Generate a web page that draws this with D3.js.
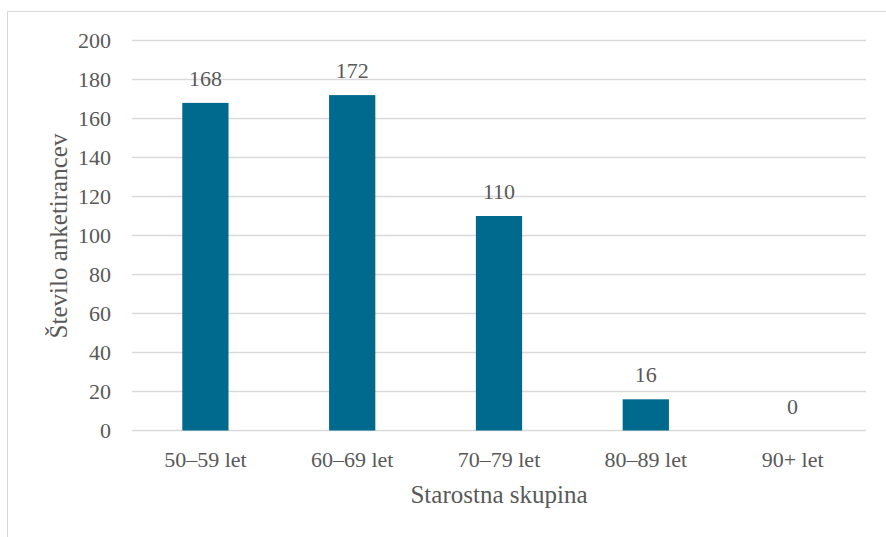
<!DOCTYPE html>
<html>
<head>
<meta charset="utf-8">
<script src="https://cdn.jsdelivr.net/npm/d3@7"></script>
<style>
  html, body { margin: 0; padding: 0; background: #fff; }
  svg { display: block; }
</style>
</head>
<body>
<svg id="chart" width="886" height="537"></svg>
<script>
// Age groups and number of respondents
const categories = ["50–59 let", "60–69 let", "70–79 let", "80–89 let", "90+ let"];
const values = [168, 172, 110, 16, 0];
const yTicks = [0, 20, 40, 60, 80, 100, 120, 140, 160, 180, 200];
const xTitle = "Starostna skupina";
const yTitle = "Število anketirancev";

const FONT = '"Liberation Serif"';
const TEXT_COLOR = "#595959";

const svg = d3.select("#chart");
const W = 886, H = 537;
const margin = { left: 132, right: 20, top: 40.5, bottom: 106.5 };
const plotW = W - margin.left - margin.right;
const plotH = H - margin.top - margin.bottom;

// chart frame
svg.append("rect")
  .attr("x", 7.5).attr("y", 11.5)
  .attr("width", W + 10).attr("height", H + 10)
  .attr("fill", "#fff").attr("stroke", "#d9d9d9").attr("stroke-width", 1);

const g = svg.append("g").attr("transform", `translate(${margin.left},${margin.top})`);

const x = d3.scaleBand().domain(categories).range([0, plotW]).paddingInner(0.685).paddingOuter(0.3425);
const y = d3.scaleLinear().domain([0, 200]).range([plotH, 0]);

// gridlines
g.append("g").selectAll("line").data(yTicks).join("line")
  .attr("x1", 0).attr("x2", plotW)
  .attr("y1", d => y(d)).attr("y2", d => y(d))
  .attr("stroke", "#d9d9d9").attr("stroke-width", 1.3);

// y axis tick labels
const yAxis = g.append("g")
  .call(d3.axisLeft(y).tickValues(yTicks).tickSize(0).tickPadding(21));
yAxis.attr("font-family", null);
yAxis.select(".domain").remove();
yAxis.selectAll("text")
  .style("font-family", FONT).style("font-size", "22px").style("fill", TEXT_COLOR);

// bars
g.append("g").selectAll("rect").data(values).join("rect")
  .attr("x", (d, i) => x(categories[i]))
  .attr("width", x.bandwidth())
  .attr("y", d => y(d))
  .attr("height", d => y(0) - y(d))
  .attr("fill", "#006a8e");

// value labels
g.append("g").selectAll("text").data(values).join("text")
  .attr("x", (d, i) => x(categories[i]) + x.bandwidth() / 2)
  .attr("y", d => y(d) - 17)
  .attr("text-anchor", "middle")
  .style("font-family", FONT).style("font-size", "22px").style("fill", TEXT_COLOR)
  .text(d => d);

// x axis labels
const xAxis = g.append("g")
  .attr("transform", `translate(0,${plotH})`)
  .call(d3.axisBottom(x).tickSize(0).tickPadding(21));
xAxis.attr("font-family", null);
xAxis.select(".domain").remove();
xAxis.selectAll("text")
  .style("font-family", FONT).style("font-size", "22px").style("fill", TEXT_COLOR);

// axis titles
svg.append("text")
  .attr("x", margin.left + plotW / 2).attr("y", 503)
  .attr("text-anchor", "middle")
  .style("font-family", FONT).style("font-size", "25px").style("fill", TEXT_COLOR)
  .text(xTitle);

svg.append("text")
  .attr("transform", `translate(67,236) rotate(-90)`)
  .attr("text-anchor", "middle")
  .style("font-family", FONT).style("font-size", "25px").style("fill", TEXT_COLOR)
  .text(yTitle);
</script>
</body>
</html>
